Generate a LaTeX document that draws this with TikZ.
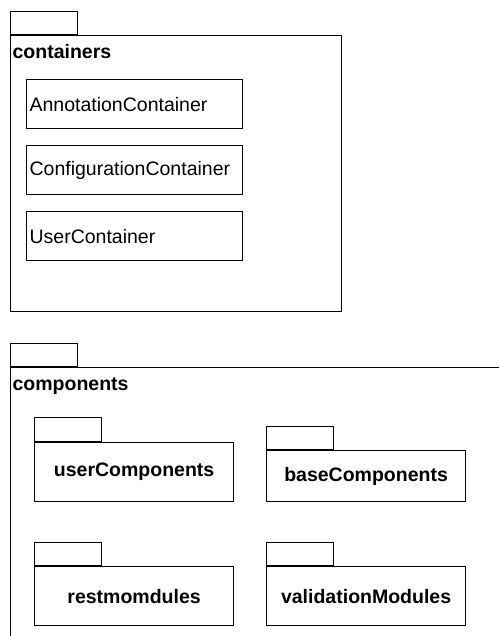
\documentclass[tikz,border=0pt]{standalone}
\usepackage{fontspec}
\setmainfont{Liberation Sans}
\usetikzlibrary{positioning}

\begin{document}
\begin{tikzpicture}[
      x=1pt, y=-1pt,
      line width=1.2pt,
      every node/.style={rectangle, inner sep=0pt},
      tab/.style={draw, minimum width=67pt, minimum height=23pt, anchor=south west},
      pkg/.style={draw, anchor=north west},
      pkgname/.style={anchor=base west, font=\bfseries\fontsize{19.5}{23}\selectfont},
      cls/.style={draw, anchor=north west, minimum width=216pt, minimum height=49pt,
        text width=210pt, align=left, inner sep=3pt, font=\fontsize{19.5}{23}\selectfont},
      subpkg/.style={draw, anchor=north west, minimum width=199pt,
        font=\bfseries\fontsize{19.5}{23}\selectfont}
    ]
      \clip (0,0) rectangle (499,636);

      \node[pkg, minimum width=331pt, minimum height=276pt] (containers) at (10,35) {};
      \node[tab] (containersTab) at (containers.north west) {};
      \node[pkgname] (containersName) at (12,59) {containers};

      \node[cls] (annotation) at (26,79) {AnnotationContainer};
      \node[cls] (configuration) at (26,145) {ConfigurationContainer};
      \node[cls] (user) at (26,211) {UserContainer};

      \node[pkg, minimum width=520pt, minimum height=300pt] (components) at (10,367) {};
      \node[tab] (componentsTab) at (components.north west) {};
      \node[pkgname] (componentsName) at (12,390) {components};

      \node[subpkg, minimum height=59pt] (userComp) at (34,442) {userComponents};
      \node[tab, minimum height=24pt] (userCompTab) at (userComp.north west) {};
      \node[subpkg, minimum height=51pt] (baseComp) at (266,450) {baseComponents};
      \node[tab] (baseCompTab) at (baseComp.north west) {};
      \node[subpkg, minimum height=59pt] (restMod) at (34,566) {restmomdules};
      \node[tab] (restModTab) at (restMod.north west) {};
      \node[subpkg, minimum height=59pt] (validMod) at (266,566) {validationModules};
      \node[tab] (validModTab) at (validMod.north west) {};
    \end{tikzpicture}
\end{document}
